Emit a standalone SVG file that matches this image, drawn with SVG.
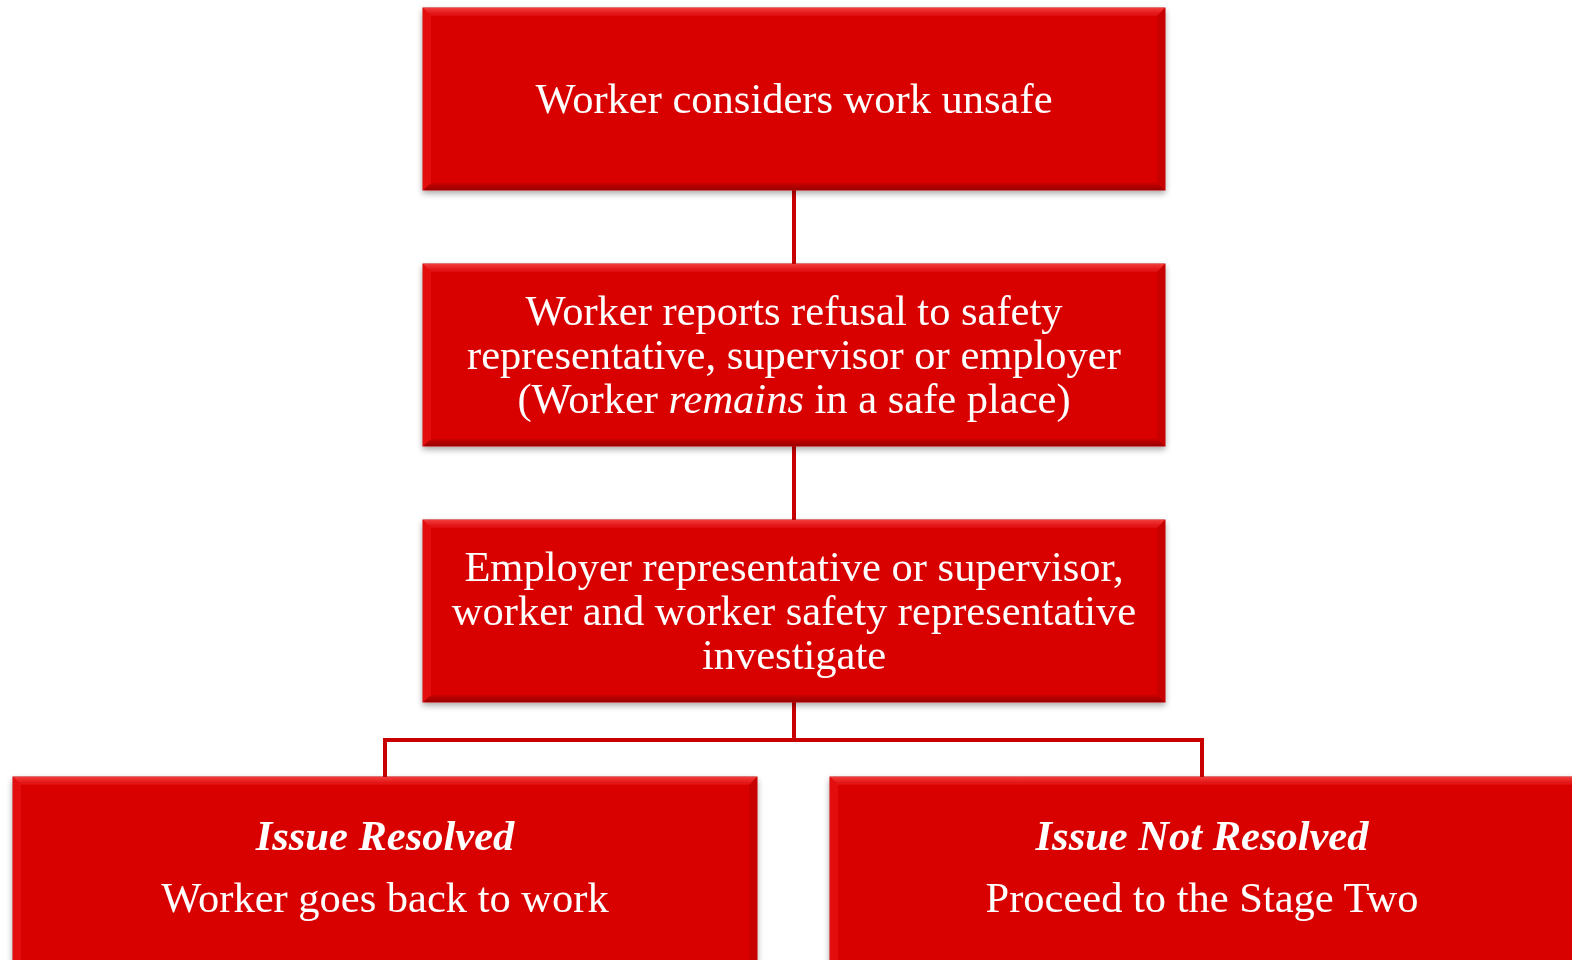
<svg xmlns="http://www.w3.org/2000/svg" width="1572" height="960" viewBox="0 0 1572 960">
<defs>
<linearGradient id="topBev" x1="0" y1="0" x2="0" y2="1"><stop offset="0" stop-color="#f23a3a"/><stop offset="1" stop-color="#de0a0a"/></linearGradient>
<linearGradient id="botBev" x1="0" y1="0" x2="0" y2="1"><stop offset="0" stop-color="#c80404"/><stop offset="1" stop-color="#9a0000"/></linearGradient>
<filter id="sh" x="-5%" y="-5%" width="110%" height="115%"><feGaussianBlur in="SourceAlpha" stdDeviation="3"/><feOffset dx="0" dy="3"/><feComponentTransfer><feFuncA type="linear" slope="0.35"/></feComponentTransfer><feMerge><feMergeNode/><feMergeNode in="SourceGraphic"/></feMerge></filter>
</defs>
<style>
.box{fill:#d90606;stroke:#c40000;stroke-width:1}
.t{font-family:"Liberation Serif","Times New Roman",serif;font-size:42.5px;fill:#ffffff;text-anchor:middle}
.bi{font-weight:bold;font-style:italic}
.conn{fill:none;stroke:#c80000;stroke-width:4}
</style>
<rect width="1572" height="960" fill="#ffffff"/>
<g id="connectors">
<line class="conn" x1="794" y1="190" x2="794" y2="264"/>
<line class="conn" x1="794" y1="446" x2="794" y2="520"/>
<polyline class="conn" points="794,702 794,740 385,740 385,777"/>
<polyline class="conn" points="794,740 1202,740 1202,777"/>
</g>
<g id="n1" filter="url(#sh)">
<rect class="box" x="423" y="8" width="742" height="182"/>
<polygon points="423,8 1165,8 1157,16 431,16" fill="url(#topBev)"/>
<polygon points="423,190 1165,190 1157,183 431,183" fill="url(#botBev)"/>
<polygon points="423,8 431,16 431,183 423,190" fill="#e41010"/>
<polygon points="1165,8 1157,16 1157,183 1165,190" fill="#c70303"/>
<text class="t" x="794" y="113">Worker considers work unsafe</text>
</g>
<g id="n2" filter="url(#sh)">
<rect class="box" x="423" y="264" width="742" height="182"/>
<polygon points="423,264 1165,264 1157,272 431,272" fill="url(#topBev)"/>
<polygon points="423,446 1165,446 1157,439 431,439" fill="url(#botBev)"/>
<polygon points="423,264 431,272 431,439 423,446" fill="#e41010"/>
<polygon points="1165,264 1157,272 1157,439 1165,446" fill="#c70303"/>
<text class="t" x="794" y="325">Worker reports refusal to safety</text>
<text class="t" x="794" y="369">representative, supervisor or employer</text>
<text class="t" x="794" y="413">(Worker <tspan font-style="italic">remains</tspan> in a safe place)</text>
</g>
<g id="n3" filter="url(#sh)">
<rect class="box" x="423" y="520" width="742" height="182"/>
<polygon points="423,520 1165,520 1157,528 431,528" fill="url(#topBev)"/>
<polygon points="423,702 1165,702 1157,695 431,695" fill="url(#botBev)"/>
<polygon points="423,520 431,528 431,695 423,702" fill="#e41010"/>
<polygon points="1165,520 1157,528 1157,695 1165,702" fill="#c70303"/>
<text class="t" x="794" y="581">Employer representative or supervisor,</text>
<text class="t" x="794" y="625">worker and worker safety representative</text>
<text class="t" x="794" y="669">investigate</text>
</g>
<g id="n4" filter="url(#sh)">
<rect class="box" x="13" y="777" width="744" height="190"/>
<polygon points="13,777 757,777 749,785 21,785" fill="url(#topBev)"/>
<polygon points="13,777 21,785 21,960 13,960" fill="#e41010"/>
<polygon points="757,777 749,785 749,960 757,960" fill="#c70303"/>
<text class="t bi" x="385" y="850">Issue Resolved</text>
<text class="t" x="385" y="912">Worker goes back to work</text>
</g>
<g id="n5" filter="url(#sh)">
<rect class="box" x="830" y="777" width="750" height="190"/>
<polygon points="830,777 1580,777 1572,785 838,785" fill="url(#topBev)"/>
<polygon points="830,777 838,785 838,960 830,960" fill="#e41010"/>
<text class="t bi" x="1202" y="850">Issue Not Resolved</text>
<text class="t" x="1202" y="912">Proceed to the Stage Two</text>
</g>
</svg>
